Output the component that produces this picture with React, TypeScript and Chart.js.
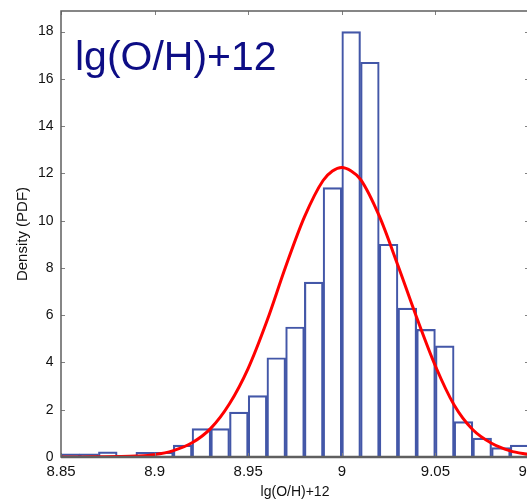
import React, { useEffect, useRef } from "react";
import { Chart, registerables } from "chart.js";

Chart.register(...registerables);

// Histogram bins (left edges) and density values (PDF)
const binStarts = [8.85, 8.86, 8.87, 8.88, 8.89, 8.9, 8.91, 8.92, 8.93, 8.94, 8.95, 8.96, 8.97, 8.98, 8.99, 9.0, 9.01, 9.02, 9.03, 9.04, 9.05, 9.06, 9.07, 9.08, 9.09];
const binWidth = 0.01;
const density = [0.13, 0.13, 0.22, 0, 0.2, 0.2, 0.5, 1.2, 1.2, 1.9, 2.6, 4.2, 5.5, 7.4, 11.4, 18.0, 16.7, 9.0, 6.3, 5.4, 4.7, 1.5, 0.8, 0.4, 0.5];

// Fitted normal curve
const fitX = [8.85, 8.86, 8.87, 8.88, 8.89, 8.9, 8.91, 8.92, 8.93, 8.94, 8.95, 8.96, 8.97, 8.98, 8.99, 8.995, 9.0, 9.005, 9.01, 9.02, 9.03, 9.04, 9.05, 9.06, 9.07, 9.08, 9.09, 9.1];
const fitY = [0.0, 0.0, 0.01, 0.02, 0.04, 0.1, 0.27, 0.6, 1.21, 2.25, 3.75, 5.75, 8.05, 10.15, 11.7, 12.1, 12.25, 12.1, 11.75, 10.2, 8.1, 5.9, 3.85, 2.2, 1.15, 0.58, 0.26, 0.1];

const xTicks = [8.85, 8.9, 8.95, 9, 9.05, 9.1];
const yTicks = [0, 2, 4, 6, 8, 10, 12, 14, 16, 18];
const xTitle = "lg(O/H)+12";
const yTitle = "Density (PDF)";
const annotation = "lg(O/H)+12";

const framePlugin = {
  id: "frame",
  afterDraw(chart: any) {
    const { ctx, chartArea: a, scales } = chart;
    const xs = scales.x;
    const ys = scales.y;
    ctx.save();
    // inward ticks
    ctx.strokeStyle = "#808080";
    ctx.lineWidth = 1;
    ctx.beginPath();
    for (const t of xs.ticks) {
      const px = Math.round(xs.getPixelForValue(t.value)) + 0.5;
      ctx.moveTo(px, a.top);
      ctx.lineTo(px, a.top + 4);
      ctx.moveTo(px, a.bottom);
      ctx.lineTo(px, a.bottom - 4);
    }
    for (const t of ys.ticks) {
      const py = Math.round(ys.getPixelForValue(t.value)) + 0.5;
      ctx.moveTo(a.left, py);
      ctx.lineTo(a.left + 4, py);
      ctx.moveTo(a.right, py);
      ctx.lineTo(a.right - 4, py);
    }
    ctx.stroke();
    // frame
    ctx.strokeStyle = "#5f5f5f";
    ctx.lineWidth = 1.5;
    ctx.strokeRect(a.left, a.top, a.right - a.left, a.bottom - a.top);
    ctx.lineWidth = 2.5;
    ctx.beginPath();
    ctx.moveTo(a.left, a.bottom);
    ctx.lineTo(a.right, a.bottom);
    ctx.stroke();
    // big annotation
    ctx.fillStyle = "#0d0d85";
    ctx.font = '41px "Liberation Sans", Arial, sans-serif';
    ctx.textBaseline = "alphabetic";
    ctx.textAlign = "left";
    ctx.fillText(annotation, a.left + 14, a.top + 59);
    ctx.restore();
  },
};

export default function App() {
  const ref = useRef<HTMLCanvasElement>(null);
  useEffect(() => {
    if (!ref.current) return;
    const bars = binStarts.map((s, i) => ({ x: s + binWidth / 2, y: density[i] }));
    const line = fitX.map((x, i) => ({ x, y: fitY[i] }));
    const chart = new Chart(ref.current, {
      type: "bar",
      data: {
        datasets: [
          {
            type: "line",
            data: line,
            borderColor: "#ff0000",
            borderWidth: 3,
            pointRadius: 0,
            cubicInterpolationMode: "monotone",
            fill: false,
            order: 0,
          } as any,
          {
            type: "bar",
            data: bars,
            backgroundColor: "rgba(255,255,255,0)",
            borderColor: "#4357a8",
            borderWidth: 1.5,
            barPercentage: 1,
            categoryPercentage: 1,
            order: 1,
          } as any,
        ],
      },
      options: {
        responsive: false,
        animation: false,
        layout: { padding: { top: 11, right: 16, bottom: 0, left: 0 } },
        plugins: { legend: { display: false }, tooltip: { enabled: false } },
        scales: {
          x: {
            type: "linear",
            min: 8.85,
            max: 9.1,
            offset: false,
            grid: { display: false, drawTicks: false },
            border: { display: false },
            afterBuildTicks: (s: any) => {
              s.ticks = xTicks.map((v) => ({ value: v }));
            },
            afterFit: (s: any) => {
              s.height = 45;
              s.paddingLeft = 0;
              s.paddingRight = 0;
            },
            ticks: {
              autoSkip: false,
              maxRotation: 0,
              padding: 6,
              color: "#111",
              font: { family: '"Liberation Sans", Arial', size: 15 },
              callback: (v: any) => String(v),
            },
            title: {
              display: true,
              text: xTitle,
              color: "#111",
              font: { family: '"Liberation Sans", Arial', size: 14 },
              padding: { top: 0, bottom: 1 },
            },
          },
          y: {
            type: "linear",
            min: 0,
            max: 18.87,
            grid: { display: false, drawTicks: false },
            border: { display: false },
            afterBuildTicks: (s: any) => {
              s.ticks = yTicks.map((v) => ({ value: v }));
            },
            afterFit: (s: any) => {
              s.width = 61;
              s.paddingTop = 0;
              s.paddingBottom = 0;
            },
            ticks: {
              autoSkip: false,
              padding: 7.5,
              color: "#111",
              font: { family: '"Liberation Sans", Arial', size: 14 },
              callback: (v: any) => String(v),
            },
            title: {
              display: true,
              text: yTitle,
              color: "#111",
              font: { family: '"Liberation Sans", Arial', size: 15 },
              padding: { top: 14, bottom: 0 },
            },
          },
        },
      },
      plugins: [framePlugin],
    });
    return () => chart.destroy();
  }, []);
  return (
    <div style={{ position: "absolute", left: 0, top: 0, width: 527, height: 502, overflow: "hidden", background: "#fff" }}>
      <canvas ref={ref} width={545} height={502} style={{ display: "block", width: 545, height: 502 }} />
    </div>
  );
}
